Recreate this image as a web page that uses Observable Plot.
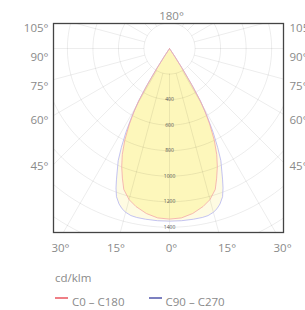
<!DOCTYPE html>
<html><head><meta charset="utf-8">
<script src="https://cdn.jsdelivr.net/npm/d3@7"></script>
<script src="https://cdn.jsdelivr.net/npm/@observablehq/plot@0.6"></script>
<style>
body{margin:0;background:#fff;font-family:"Open Sans",sans-serif;}
#wrap{position:relative;width:305px;height:310px;overflow:hidden;}
#unit{position:absolute;left:55px;top:270px;font-size:11.5px;color:#8a8a8a;}
#legend{position:absolute;left:55px;top:294px;font-size:11.5px;color:#8a8a8a;display:flex;align-items:center;white-space:nowrap;}
.sw{display:inline-block;width:13px;height:2px;margin-right:4px;position:relative;top:-4px;}
.item{display:flex;align-items:center;margin-right:20px;}
</style></head><body>
<div id="wrap"><div id="chart"></div>
<div id="unit">cd/klm</div>
<div id="legend"></div>
</div>
<script>
// gamma angles (deg) and intensities (cd/klm), symmetric curves
const c0Angles = [0, 4, 8, 12, 15, 18, 20, 22, 24, 26, 28, 29.5, 30.5, 31.5, 32.5, 33.5, 34.5];
const c0c180   = [1336, 1330, 1305, 1265, 1225, 1160, 1080, 1000, 910, 800, 670, 560, 470, 330, 180, 60, 0];
const c90Angles = [0, 4, 8, 11, 13, 15, 16.5, 18, 19.7, 21, 22, 23, 24.6, 26, 27.5, 29, 30.5, 31.5, 32.5, 33.5, 34.5, 35.5];
const c90c270   = [1352, 1352, 1350, 1348, 1343, 1328, 1309, 1280, 1233, 1170, 1110, 1050, 966, 860, 740, 610, 480, 350, 200, 80, 10, 0];
const seriesNames = ["C0 – C180", "C90 – C270"];
const seriesColors = ["#ef7f86", "#7c80c0"];
const sideTicks = [105, 90, 75, 60, 45];
const bottomTicks = [-30, -15, 0, 15, 30];
const intensityTicks = [400, 600, 800, 1000, 1200, 1400];
const gridRadii = [200, 400, 600, 800, 1000, 1200, 1400, 1600, 1800];
const gridAngles = d3.range(0, 360, 15);

const xDom = [-909, 893];
const yDom = [-1441, 196];
const rad = a => a * Math.PI / 180;
const pt = (a, r) => ({x: r * Math.sin(rad(a)), y: -r * Math.cos(rad(a))});

function fullCurve(angles, vals) {
  const left = angles.map((a, i) => pt(-a, vals[i])).reverse();
  const right = angles.map((a, i) => pt(a, vals[i]));
  return [pt(0, 0), ...left, ...right.slice(1), pt(0, 0)];
}
const redCurve = fullCurve(c0Angles, c0c180);
const blueCurve = fullCurve(c90Angles, c90c270);

const circles = gridRadii.flatMap(r => d3.range(0, 361, 2).map(a => ({...pt(a, r), r})));
const spokes = gridAngles.map(a => {
  const p1 = pt(a, 200), p2 = pt(a, 2200);
  return {x1: p1.x, y1: p1.y, x2: p2.x, y2: p2.y};
});
const sideLabels = sideTicks.map(a => ({a, y: -70.5 - 854 / Math.tan(rad(a))}));
const bottomLabels = bottomTicks.map(a => ({a, x: a / 30 * 870}));

const grid = {stroke: "#000", strokeOpacity: 0.075, strokeWidth: 1, clip: true};
const font = {fontFamily: "Open Sans", fontSize: 11.5, fill: "#8a8a8a"};

const chart = Plot.plot({
  width: 305, height: 262,
  marginLeft: 53, marginRight: 22, marginTop: 23, marginBottom: 30,
  x: {domain: xDom, axis: null},
  y: {domain: yDom, axis: null},
  style: {background: "#fff", overflow: "visible"},
  marks: [
    Plot.line(blueCurve, {x: "x", y: "y", fill: "#fefbe2", stroke: "none", clip: true}),
    Plot.line(redCurve, {x: "x", y: "y", fill: "#fdf7bb", stroke: "none", clip: true}),
    Plot.line(circles, {x: "x", y: "y", z: "r", ...grid}),
    Plot.link(spokes, {x1: "x1", y1: "y1", x2: "x2", y2: "y2", ...grid}),
    Plot.line(blueCurve, {x: "x", y: "y", stroke: "#b4b4f0", strokeWidth: 0.8, clip: true}),
    Plot.line(redCurve, {x: "x", y: "y", stroke: "#f4a8a8", strokeWidth: 0.8, clip: true}),
    Plot.text(intensityTicks, {x: 0, y: d => -d, text: d => String(d), fontSize: 5, fill: "#555", fontFamily: "Open Sans"}),
    Plot.frame({stroke: "#444", strokeWidth: 1.3}),
    Plot.text(sideLabels, {x: xDom[0], y: "y", text: d => d.a + "°", textAnchor: "end", dx: -5, ...font}),
    Plot.text(sideLabels, {x: xDom[1], y: "y", text: d => d.a + "°", textAnchor: "start", dx: 6, ...font}),
    Plot.text(bottomLabels, {x: "x", y: yDom[0], text: d => Math.abs(d.a) + "°", dy: 16, dx: 2, ...font}),
    Plot.text(["180°"], {x: 0, y: yDom[1], text: d => d, dy: -7, dx: 2, ...font})
  ]
});
document.getElementById("chart").appendChild(chart);

const legend = document.getElementById("legend");
seriesNames.forEach((n, i) => {
  const it = document.createElement("span");
  it.className = "item";
  it.style.marginRight = "24px";
  it.innerHTML = `<span class="sw" style="background:${seriesColors[i]}"></span>${n}`;
  legend.appendChild(it);
});
</script>
</body></html>
